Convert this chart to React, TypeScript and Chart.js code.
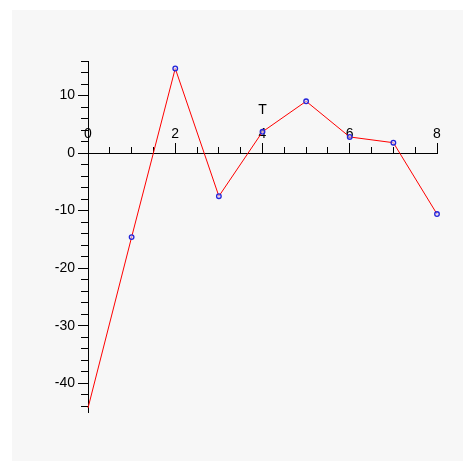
import React, { useEffect, useRef } from 'react';
import { Chart, registerables } from 'chart.js';

Chart.register(...registerables);

const tValues = [0, 1, 2, 3, 4, 5, 6, 7, 8];
const yValues = [-44.3, -14.6, 14.7, -7.5, 3.7, 9.0, 2.8, 1.8, -10.6];
const xMajorTicks = [0, 2, 4, 6, 8];
const yMajorTicks = [-40, -30, -20, -10, 0, 10];
const axisTitle = 'T';
const titleAt = 4;

const X_MIN = 0;
const X_MAX = 8;
const Y_MIN = -45;
const Y_MAX = 16;

const xMinorTicks: number[] = [];
for (let v = X_MIN; v <= X_MAX + 1e-9; v += 0.5) xMinorTicks.push(v);
const yMinorTicks: number[] = [];
for (let v = -44; v <= Y_MAX + 1e-9; v += 2) yMinorTicks.push(v);

const FONT = "'Liberation Sans', Arial, sans-serif";

const bgPlugin = {
  id: 'mapleBg',
  beforeDraw(chart: any) {
    const ctx = chart.ctx;
    ctx.save();
    ctx.fillStyle = '#ffffff';
    ctx.fillRect(0, 0, chart.width, chart.height);
    ctx.fillStyle = '#f7f7f7';
    ctx.fillRect(12, 10, 451, 451);
    ctx.restore();
  },
};

const titlePlugin = {
  id: 'axisTitleT',
  afterDraw(chart: any) {
    const ctx = chart.ctx;
    const x = chart.scales.x.getPixelForValue(titleAt);
    const y = chart.scales.y.getPixelForValue(0) - 43;
    ctx.save();
    ctx.fillStyle = '#000';
    ctx.font = `14px ${FONT}`;
    ctx.textAlign = 'center';
    ctx.textBaseline = 'middle';
    ctx.fillText(axisTitle, x, y);
    ctx.restore();
  },
};

export default function App() {
  const ref = useRef<HTMLCanvasElement | null>(null);

  useEffect(() => {
    if (!ref.current) return;
    const chart = new Chart(ref.current, {
      type: 'line',
      data: {
        datasets: [
          {
            data: tValues.map((t, i) => ({ x: t, y: yValues[i] })),
            borderColor: '#ff0000',
            borderWidth: 1,
            tension: 0,
            pointRadius: (c: any) => (c.dataIndex === 0 ? 0 : 2.3),
            pointBorderColor: '#2424d8',
            pointBackgroundColor: 'rgba(220,220,255,0.6)',
            pointBorderWidth: 1.3,
            clip: 4,
          },
        ],
      },
      plugins: [bgPlugin, titlePlugin],
      options: {
        responsive: false,
        animation: false,
        events: [],
        layout: { padding: { left: 48, right: 37, top: 61, bottom: 62 } },
        plugins: { legend: { display: false }, tooltip: { enabled: false } },
        scales: {
          x: {
            type: 'linear',
            min: X_MIN,
            max: X_MAX,
            position: { y: 0 } as any,
            border: { display: true, color: '#000', width: 1 },
            grid: { drawOnChartArea: false, drawTicks: true, tickLength: -7, tickColor: '#000', tickWidth: 1 },
            ticks: { display: false },
            afterBuildTicks: (s: any) => {
              s.ticks = xMinorTicks.map((v) => ({ value: v }));
            },
          },
          xMajor: {
            type: 'linear',
            axis: 'x',
            min: X_MIN,
            max: X_MAX,
            position: { y: 0 } as any,
            border: { display: false },
            grid: { drawOnChartArea: false, drawTicks: true, tickLength: -10, tickColor: '#000', tickWidth: 1 },
            ticks: {
              padding: -17,
              color: '#000',
              font: { family: FONT, size: 14 },
              maxRotation: 0,
              autoSkip: false,
              callback: (v: any) => String(v),
            },
            afterBuildTicks: (s: any) => {
              s.ticks = xMajorTicks.map((v) => ({ value: v }));
            },
          },
          y: {
            type: 'linear',
            min: Y_MIN,
            max: Y_MAX,
            position: { x: 0 } as any,
            border: { display: true, color: '#000', width: 1 },
            grid: { drawOnChartArea: false, drawTicks: true, tickLength: 7, tickColor: '#000', tickWidth: 1 },
            ticks: { display: false },
            afterBuildTicks: (s: any) => {
              s.ticks = yMinorTicks.map((v) => ({ value: v }));
            },
          },
          yMajor: {
            type: 'linear',
            axis: 'y',
            min: Y_MIN,
            max: Y_MAX,
            position: 'left',
            border: { display: false },
            grid: { drawOnChartArea: false, drawTicks: true, tickLength: 10, tickColor: '#000', tickWidth: 1 },
            ticks: {
              padding: 3,
              color: '#000',
              font: { family: FONT, size: 14 },
              autoSkip: false,
              callback: (v: any) => String(v),
            },
            afterBuildTicks: (s: any) => {
              s.ticks = yMajorTicks.map((v) => ({ value: v }));
            },
            afterFit: (s: any) => {
              s.width = 40;
            },
          },
        },
      } as any,
    });
    return () => chart.destroy();
  }, []);

  return (
    <div style={{ position: 'fixed', left: 0, top: 0, width: 474, height: 474, background: '#fff' }}>
      <canvas ref={ref} width={474} height={474} style={{ display: 'block' }} />
    </div>
  );
}
